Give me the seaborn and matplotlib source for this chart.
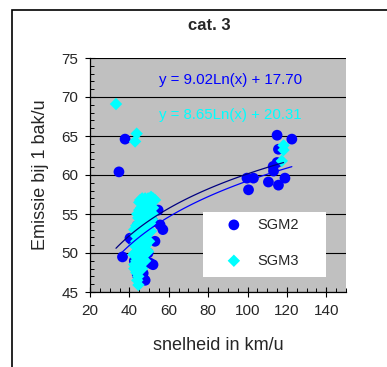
import numpy as np
import pandas as pd
import matplotlib
matplotlib.use("Agg")
import matplotlib.pyplot as plt
import seaborn as sns
from matplotlib.patches import Rectangle
from matplotlib.ticker import MultipleLocator

# -----------------------------
# DATA
# -----------------------------
sgm2_x = [37.8, 34.7, 36.5,
          40.3, 41.2, 57.0, 55.6, 54.6, 50.5, 47.0, 44.0, 49.5, 46.3, 48.0,
          43.0, 52.0, 53.0, 52.0, 46.0, 44.0, 42.5, 51.0, 47.0, 49.0, 47.0,
          115.0, 122.5, 115.7, 113.0, 110.6, 115.7, 119.0, 99.7, 100.5, 103.0,
          113.2, 115.0]
sgm2_y = [64.6, 60.4, 49.5,
          51.9, 51.7, 53.0, 53.6, 55.5, 48.7, 47.4, 47.2, 50.0, 47.2, 46.5,
          48.2, 48.5, 51.5, 54.0, 55.0, 53.5, 49.0, 56.0, 52.0, 53.5, 46.8,
          65.1, 64.6, 63.3, 61.1, 59.1, 58.7, 59.6, 59.6, 58.1, 59.6,
          60.5, 61.6]

sgm3_x = [33.2, 43.7, 42.9, 44.6,
          45.5, 48.0, 51.0, 53.0, 47.0, 50.0, 52.0,
          45.0, 48.0, 50.5, 44.5, 47.0, 49.5, 51.5,
          43.5, 46.0, 48.5, 51.0, 43.0, 45.5, 48.0, 50.0,
          42.5, 45.0, 47.5, 49.5, 42.0, 44.5, 47.0, 42.5, 45.0, 43.5,
          46.5, 49.5, 52.0, 45.0, 48.5, 51.5, 46.0, 49.0,
          44.0, 46.5, 52.0, 45.5, 48.5, 50.5, 44.5, 47.5, 50.5,
          42.5, 44.5, 47.0, 49.5, 44.0, 46.5, 49.5, 43.5, 46.5,
          44.0, 48.5, 43.0, 46.0, 48.5, 43.5, 46.0, 48.0,
          42.5, 44.0, 46.5, 44.5, 44.0,
          118.3, 118.3, 117.4]
sgm3_y = [69.1, 65.3, 64.3, 45.9,
          56.8, 57.0, 57.2, 56.8, 56.3, 56.0, 55.8,
          55.5, 55.2, 55.0, 54.5, 54.2, 54.0, 54.3,
          53.5, 53.2, 53.0, 52.8, 52.3, 52.0, 51.8, 51.5,
          51.0, 50.8, 50.5, 50.2, 49.8, 49.5, 49.2, 48.5, 48.3, 47.5,
          57.0, 57.0, 57.0, 56.5, 56.5, 56.5, 55.8, 55.8,
          55.0, 55.0, 55.0, 54.5, 54.5, 54.5, 53.8, 53.8, 53.8,
          53.0, 53.0, 53.0, 53.0, 52.5, 52.5, 52.5, 51.5, 51.5,
          51.0, 51.0, 50.0, 50.0, 50.0, 49.0, 49.0, 49.0,
          48.0, 48.0, 48.0, 47.0, 46.5,
          63.8, 63.2, 61.8]

# logarithmic trendlines y = a*ln(x) + b
sgm2_a, sgm2_b = 9.02, 17.70
sgm3_a, sgm3_b = 8.65, 20.31

x_ticks = [20, 40, 60, 80, 100, 120, 140]
y_ticks = [45, 50, 55, 60, 65, 70, 75]

df2 = pd.DataFrame({"snelheid": sgm2_x, "emissie": sgm2_y})
df3 = pd.DataFrame({"snelheid": sgm3_x, "emissie": sgm3_y})

sns.set_style("white")
plt.rcParams["font.family"] = ["Liberation Sans", "DejaVu Sans"]

fig = plt.figure(figsize=(3.87, 3.67), dpi=100)
ax = fig.add_axes([90 / 387, 75 / 367, 256 / 387, 234 / 367])
ax.set_facecolor("#C0C0C0")

sns.scatterplot(data=df2, x="snelheid", y="emissie", ax=ax, color="#0000FF",
                marker="o", s=60, edgecolor="none", label="SGM2", zorder=2)
sns.scatterplot(data=df3, x="snelheid", y="emissie", ax=ax, color="#00FFFF",
                marker="D", s=40, edgecolor="none", label="SGM3", zorder=2)

# trendlines
t2 = np.linspace(min(sgm2_x), max(sgm2_x), 100)
t3 = np.linspace(min(sgm3_x), max(sgm3_x), 100)
ax.plot(t2, sgm2_a * np.log(t2) + sgm2_b, color="#0000FF", lw=0.9, zorder=3)
ax.plot(t3, sgm3_a * np.log(t3) + sgm3_b, color="#000080", lw=0.9, zorder=3)

ax.text(0.55, 0.906, f"y = {sgm2_a:.2f}Ln(x) + {sgm2_b:.2f}", transform=ax.transAxes,
        color="#0000FF", fontsize=10.8, ha="center", va="center")
ax.text(0.55, 0.756, f"y = {sgm3_a:.2f}Ln(x) + {sgm3_b:.2f}", transform=ax.transAxes,
        color="#00FFFF", fontsize=10.8, ha="center", va="center")

ax.set_xlim(20, 150)
ax.set_ylim(45, 75)
ax.set_xticks(x_ticks)
ax.set_yticks(y_ticks)
ax.xaxis.set_minor_locator(MultipleLocator(5))
ax.yaxis.set_minor_locator(MultipleLocator(1))
ax.tick_params(which="major", direction="inout", length=7, width=0.8,
               color="black", labelsize=11, left=True, bottom=True, pad=5)
ax.tick_params(which="minor", direction="in", length=3, width=0.7,
               color="black", left=True, bottom=True)
ax.set_axisbelow(True)
ax.yaxis.grid(True, color="black", lw=0.8)
ax.xaxis.grid(False)
for side in ["top", "right"]:
    ax.spines[side].set_visible(False)
for side in ["left", "bottom"]:
    ax.spines[side].set_color("black")
    ax.spines[side].set_linewidth(0.9)

ax.set_xlabel("snelheid in km/u", fontsize=13, labelpad=14)
ax.set_ylabel("Emissie bij 1 bak/u", fontsize=13, labelpad=9)
fig.text(209 / 387, 1 - 26 / 367, "cat. 3", fontsize=12, fontweight="bold",
         ha="center", va="center")

# legend box
ax.add_patch(Rectangle((0.441, 0.064), 0.481, 0.278, transform=ax.transAxes,
                       facecolor="white", edgecolor="none", zorder=4))
ax.legend(loc="upper left", bbox_to_anchor=(0.505, 0.3175), frameon=False,
          fontsize=10.5, borderpad=0, handlelength=2, handletextpad=0.6,
          labelspacing=1.5, borderaxespad=0)

# chart border
fig.add_artist(Rectangle((12 / 387, -0.2), 2, 1.2 - 10 / 367,
                         transform=fig.transFigure, fill=False,
                         edgecolor="black", lw=1.2))

fig.savefig("out.png", dpi=100)
